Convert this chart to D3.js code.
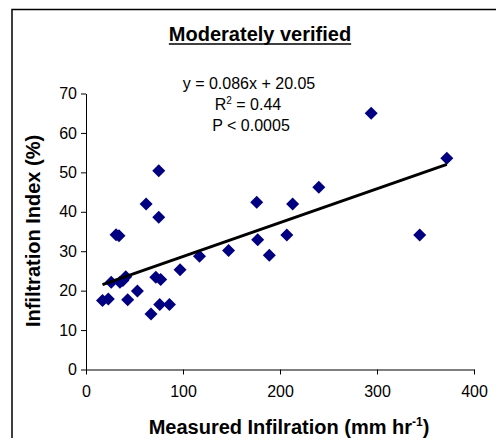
<!DOCTYPE html>
<html>
<head>
<meta charset="utf-8">
<script src="https://cdn.jsdelivr.net/npm/d3@7"></script>
<style>
  body { margin: 0; background: #fff; }
  svg { display: block; font-family: "Liberation Sans", Arial, sans-serif; }
</style>
</head>
<body>
<div id="chart"></div>
<script>
// measured infiltration (mm/hr) vs infiltration index (%)
const measured = [17, 23, 26, 35, 31, 34, 38, 41, 43, 53, 62, 67, 75, 75, 72, 77, 76, 86, 97, 117, 147, 176, 177, 189, 207, 213, 240, 294, 344, 372];
const infIndex = [17.5, 17.9, 22.1, 22.1, 34.2, 33.9, 22.6, 23.5, 17.7, 19.9, 42, 14.1, 50.4, 38.6, 23.4, 22.8, 16.5, 16.5, 25.3, 28.7, 30.2, 42.4, 32.9, 29.0, 34.1, 42.0, 46.2, 65, 34.1, 53.6];
const slope = 0.086, intercept = 20.05;
const xTicks = [0, 100, 200, 300, 400];
const yTicks = [0, 10, 20, 30, 40, 50, 60, 70];
const eqLines = ["y = 0.086x + 20.05", "R2 = 0.44", "P < 0.0005"];

const width = 496, height = 438;
const svg = d3.select("#chart").append("svg")
  .attr("width", width).attr("height", height);

// outer frame (only left and top visible)
svg.append("rect")
  .attr("x", 12).attr("y", 9.5)
  .attr("width", 520).attr("height", 460)
  .attr("fill", "none").attr("stroke", "#000").attr("stroke-width", 1.5);

const x = d3.scaleLinear().domain([0, 400]).range([86, 474]);
const y = d3.scaleLinear().domain([0, 70]).range([369.5, 93.5]);

// axes
const xAxis = svg.append("g")
  .attr("transform", `translate(0,${y(0)})`)
  .call(d3.axisBottom(x).tickValues(xTicks).tickSize(5).tickPadding(11).tickSizeOuter(0));
const yAxis = svg.append("g")
  .attr("transform", `translate(${x(0)},0)`)
  .call(d3.axisLeft(y).tickValues(yTicks).tickSize(5).tickPadding(4).tickSizeOuter(0));

[xAxis, yAxis].forEach(a => {
  a.select(".domain").attr("stroke", "#000");
  a.selectAll(".tick line").attr("stroke", "#000");
  a.selectAll(".tick text")
    .attr("fill", "#000")
    .style("font-family", "'Liberation Sans', Arial, sans-serif")
    .style("font-size", "16px");
});

// points
const diamond = "M0,-6.5L6.5,0L0,6.5L-6.5,0Z";
svg.append("g").selectAll("path")
  .data(measured.map((m, i) => [m, infIndex[i]]))
  .join("path")
  .attr("d", diamond)
  .attr("transform", d => `translate(${x(d[0])},${y(d[1])})`)
  .attr("fill", "#000080");

// regression line
const x0 = d3.min(measured), x1 = d3.max(measured);
svg.append("line")
  .attr("x1", x(x0)).attr("y1", y(slope * x0 + intercept))
  .attr("x2", x(x1)).attr("y2", y(slope * x1 + intercept))
  .attr("stroke", "#000").attr("stroke-width", 3);

// title
const title = svg.append("text")
  .attr("x", 260).attr("y", 41)
  .attr("text-anchor", "middle")
  .style("font-size", "20px").style("font-weight", "bold")
  .text("Moderately verified");
const tb = title.node().getBBox();
svg.append("line")
  .attr("x1", tb.x).attr("x2", tb.x + tb.width)
  .attr("y1", 44).attr("y2", 44)
  .attr("stroke", "#000").attr("stroke-width", 1.5);

// equation block
const eq = svg.append("g").style("font-size", "16px").attr("text-anchor", "middle");
eq.append("text").attr("x", 249).attr("y", 89).text(eqLines[0]);
const r2 = eq.append("text").attr("x", 248).attr("y", 110);
r2.append("tspan").text("R");
r2.append("tspan").attr("dy", -6).style("font-size", "10px").text("2");
r2.append("tspan").attr("dy", 6).text(" = 0.44");
eq.append("text").attr("x", 251).attr("y", 131).text(eqLines[2]);

// axis titles
const xt = svg.append("text")
  .attr("x", 289).attr("y", 434)
  .attr("text-anchor", "middle")
  .style("font-size", "20px").style("font-weight", "bold");
xt.append("tspan").text("Measured Infilration (mm hr");
xt.append("tspan").attr("dy", -8).style("font-size", "12px").text("-1");
xt.append("tspan").attr("dy", 8).text(")");

svg.append("text")
  .attr("transform", "translate(40,231) rotate(-90)")
  .attr("text-anchor", "middle")
  .style("font-size", "20px").style("font-weight", "bold")
  .text("Infiltration Index (%)");
</script>
</body>
</html>
